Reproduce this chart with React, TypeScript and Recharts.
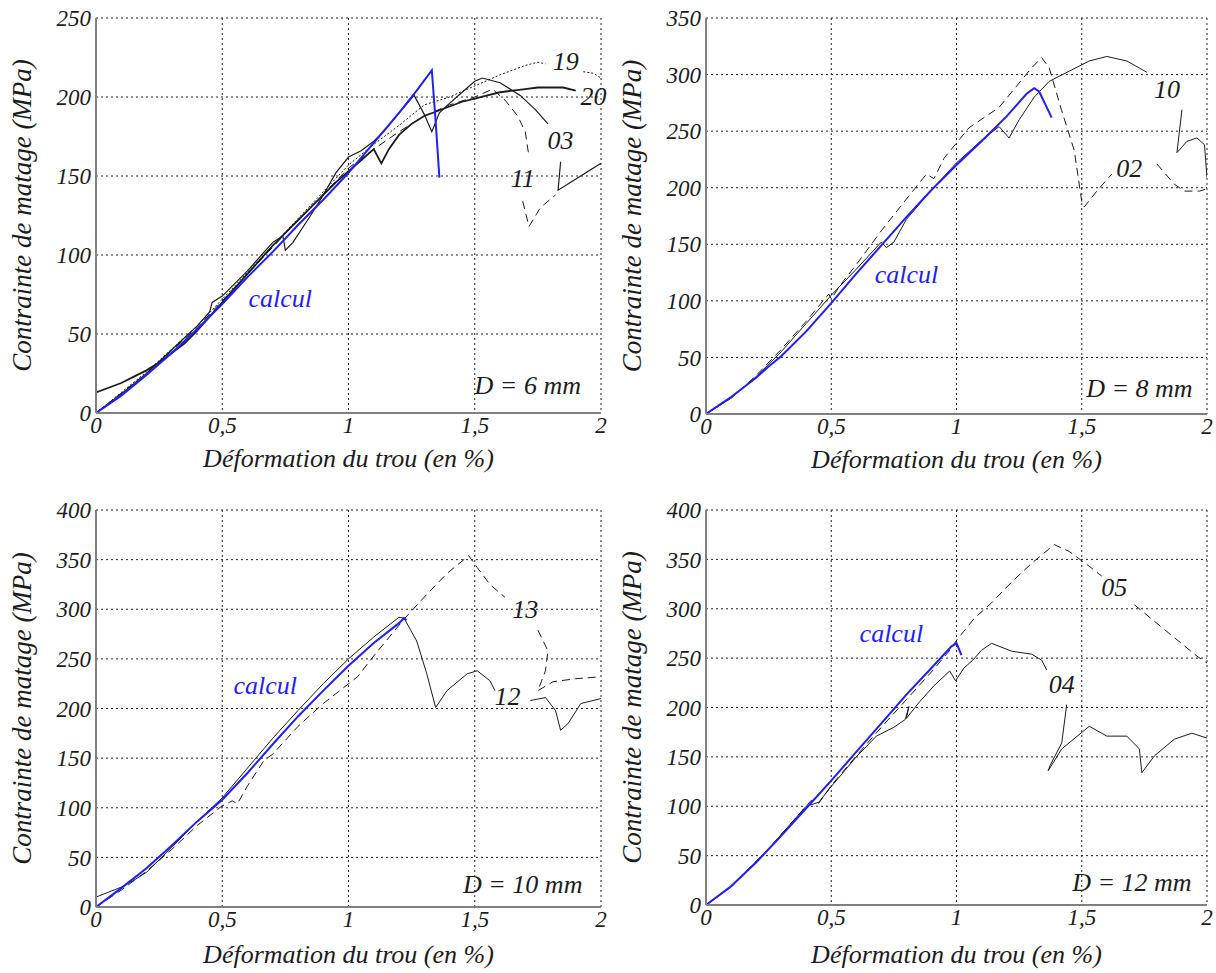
import { CartesianGrid, Line, LineChart, ReferenceDot, XAxis, YAxis } from "recharts";

const FONT = '"Liberation Serif", "Times New Roman", serif';
const BLUE = "#1f1fff";
const INK = "#1c1c1c";

type Raw = Array<[number, number | null]>;

// --- D = 6 mm ---
const calcul6: Raw = [[0, 0], [0.1, 11], [0.2, 24], [0.3, 38], [0.4, 53], [0.5, 69], [0.6, 86], [0.7, 102], [0.8, 119], [0.9, 135], [1.0, 152], [1.1, 171], [1.2, 190], [1.27, 204], [1.33, 217], [1.345, 185], [1.36, 149]];
const essai20: Raw = [[0, 13], [0.05, 16], [0.1, 19], [0.15, 23], [0.2, 27], [0.25, 32], [0.3, 38], [0.35, 44], [0.4, 52], [0.45, 61], [0.5, 70], [0.55, 79], [0.6, 88], [0.65, 97], [0.7, 106], [0.75, 114], [0.8, 122], [0.85, 130], [0.9, 138], [0.95, 146], [1.0, 153], [1.05, 160], [1.1, 167], [1.13, 158], [1.16, 167], [1.2, 176], [1.25, 183], [1.3, 188], [1.35, 191], [1.4, 194], [1.45, 197], [1.5, 199], [1.55, 201], [1.6, 203], [1.65, 204], [1.7, 205], [1.75, 206], [1.8, 206], [1.85, 206], [1.9, 204]];
const essai03: Raw = [[0, 0], [0.1, 12], [0.2, 25], [0.3, 40], [0.4, 55], [0.45, 64], [0.46, 70], [0.5, 74], [0.6, 90], [0.7, 108], [0.74, 112], [0.75, 103], [0.78, 108], [0.85, 125], [0.9, 138], [0.95, 152], [1.0, 162], [1.05, 166], [1.1, 172], [1.15, 180], [1.2, 190], [1.26, 201], [1.3, 189], [1.33, 178], [1.36, 190], [1.4, 196], [1.45, 203], [1.5, 210], [1.53, 212], [1.6, 209], [1.68, 201], [1.74, 192], [1.79, 183], [1.8, null], [1.84, 159], [1.83, 141], [1.88, 146], [1.94, 152], [2.0, 158]];
const essai11: Raw = [[0, 0], [0.2, 25], [0.4, 54], [0.6, 88], [0.8, 122], [1.0, 155], [1.1, 167], [1.2, 178], [1.3, 188], [1.4, 195], [1.5, 200], [1.57, 205], [1.62, 198], [1.67, 188], [1.7, 178], [1.715, 162], [1.7, null], [1.69, 134], [1.715, 118], [1.76, 130], [1.82, 138]];
const essai19: Raw = [[0, 0], [0.2, 26], [0.4, 55], [0.6, 89], [0.8, 123], [1.0, 157], [1.1, 170], [1.2, 182], [1.3, 195], [1.4, 200], [1.5, 207], [1.6, 214], [1.7, 220], [1.75, 222], [1.78, 221], [1.8, null], [1.93, 216], [1.97, 215], [2.0, 212]];

// --- D = 8 mm ---
const calcul8: Raw = [[0, 0], [0.1, 15], [0.2, 32], [0.25, 42], [0.3, 51], [0.4, 73], [0.5, 98], [0.6, 124], [0.7, 149], [0.8, 174], [0.9, 198], [1.0, 220], [1.1, 241], [1.2, 263], [1.28, 283], [1.31, 288], [1.33, 285], [1.38, 262]];
const essai10: Raw = [[0, 0], [0.1, 14], [0.2, 33], [0.3, 55], [0.4, 80], [0.5, 105], [0.6, 128], [0.7, 152], [0.72, 147], [0.75, 152], [0.8, 172], [0.9, 198], [1.0, 222], [1.1, 242], [1.17, 254], [1.21, 244], [1.25, 260], [1.31, 280], [1.37, 294], [1.45, 303], [1.53, 312], [1.6, 316], [1.68, 312], [1.76, 302], [1.8, null], [1.9, 269], [1.88, 231], [1.92, 241], [1.96, 244], [1.99, 238], [2.0, 209]];
const essai02: Raw = [[0, 0], [0.1, 14], [0.2, 34], [0.3, 57], [0.4, 82], [0.49, 106], [0.5, 102], [0.55, 118], [0.6, 132], [0.7, 162], [0.8, 190], [0.88, 212], [0.91, 208], [0.95, 226], [1.05, 253], [1.17, 271], [1.3, 306], [1.34, 315], [1.37, 306], [1.42, 268], [1.47, 233], [1.5, 188], [1.51, 183], [1.56, 197], [1.62, 212], [1.65, null], [1.8, 221], [1.87, 203], [1.91, 197], [1.97, 197], [2.0, 199]];

// --- D = 10 mm ---
const calcul10: Raw = [[0, 0], [0.1, 19], [0.2, 39], [0.3, 62], [0.4, 86], [0.5, 108], [0.6, 135], [0.7, 164], [0.8, 192], [0.9, 218], [1.0, 243], [1.1, 266], [1.2, 286], [1.22, 291], [1.23, 289]];
const essai12: Raw = [[0, 10], [0.05, 15], [0.1, 20], [0.15, 27], [0.2, 35], [0.3, 60], [0.4, 86], [0.5, 110], [0.6, 140], [0.7, 170], [0.8, 198], [0.9, 225], [1.0, 250], [1.1, 272], [1.2, 292], [1.22, 291], [1.27, 268], [1.31, 235], [1.345, 201], [1.39, 218], [1.47, 235], [1.51, 238], [1.56, 228], [1.58, 218], [1.6, null], [1.72, 208], [1.78, 211], [1.82, 198], [1.84, 178], [1.87, 185], [1.92, 205], [2.0, 210]];
const essai13: Raw = [[0, 0], [0.1, 17], [0.2, 36], [0.3, 58], [0.4, 82], [0.5, 102], [0.54, 107], [0.56, 104], [0.6, 122], [0.666, 148], [0.7, 154], [0.8, 182], [0.9, 205], [1.036, 232], [1.1, 253], [1.22, 290], [1.31, 315], [1.39, 336], [1.476, 354], [1.51, 342], [1.56, 325], [1.62, 312], [1.65, null], [1.75, 279], [1.79, 258], [1.78, 238], [1.75, 218], [1.81, 227], [1.9, 230], [2.0, 232]];

// --- D = 12 mm ---
const calcul12: Raw = [[0, 0], [0.1, 19], [0.2, 43], [0.3, 70], [0.4, 98], [0.5, 126], [0.6, 155], [0.7, 184], [0.8, 213], [0.9, 240], [0.98, 262], [1.0, 265], [1.02, 253]];
const essai04: Raw = [[0, 0], [0.1, 18], [0.25, 57], [0.4, 100], [0.45, 104], [0.5, 120], [0.6, 150], [0.68, 171], [0.75, 180], [0.796, 188], [0.81, 201], [0.8, 189], [0.85, 205], [0.91, 222], [0.973, 237], [0.996, 227], [1.03, 240], [1.065, 248], [1.1, 258], [1.14, 265], [1.22, 257], [1.3, 254], [1.34, 248], [1.36, 238], [1.38, null], [1.44, 203], [1.42, 164], [1.373, 141], [1.366, 136], [1.42, 158], [1.53, 181], [1.6, 171], [1.68, 171], [1.73, 158], [1.74, 134], [1.79, 151], [1.87, 168], [1.94, 174], [2.0, 169]];
const essai05: Raw = [[0, 0], [0.1, 19], [0.25, 57], [0.42, 106], [0.45, 103], [0.5, 121], [0.6, 151], [0.7, 180], [0.8, 208], [0.9, 236], [0.98, 260], [1.0, 268], [1.07, 290], [1.14, 306], [1.22, 327], [1.3, 346], [1.39, 365], [1.45, 358], [1.53, 343], [1.58, 333], [1.6, null], [1.71, 304], [1.83, 279], [1.96, 252], [2.0, 245]];

const xTicks = [0, 0.5, 1, 1.5, 2];
const yTicks250 = [0, 50, 100, 150, 200, 250];
const yTicks350 = [0, 50, 100, 150, 200, 250, 300, 350];
const yTicks400 = [0, 50, 100, 150, 200, 250, 300, 350, 400];

type Series = { data: Raw; dash?: string; width?: number; color?: string };
type Note = { x: number; y: number; text: string; color?: string };

type PanelProps = {
  left: number;
  top: number;
  width: number;
  height: number;
  marginTop: number;
  marginRight: number;
  yMax: number;
  yTicks: number[];
  series: Series[];
  notes: Note[];
  titleGap: number;
};

const toPts = (a: Raw) => a.map(([x, y]) => ({ x, y }));
const comma = (v: number) => String(v).replace(".", ",");

const tickStyle = { fontSize: 23, fontStyle: "italic", fontFamily: FONT, fill: INK };
const PAD_BOTTOM = 10;

function Panel(p: PanelProps) {
  return (
    <div style={{ position: "absolute", left: p.left, top: p.top }}>
      <LineChart
        width={p.width}
        height={p.height + PAD_BOTTOM}
        margin={{ top: p.marginTop, right: p.marginRight, bottom: PAD_BOTTOM, left: 0 }}
      >
        <CartesianGrid stroke="#222" strokeDasharray="2 3" strokeWidth={1} />
        <XAxis
          dataKey="x"
          type="number"
          domain={[0, 2]}
          ticks={xTicks}
          interval={0}
          tickFormatter={comma}
          tick={tickStyle}
          tickLine={false}
          tickSize={0}
          tickMargin={4}
          height={60}
          stroke="#808080"
          strokeWidth={2}
          allowDataOverflow
          label={{
            content: (lp: any) => {
              const vb = lp.viewBox;
              return (
                <text
                  x={vb.x + vb.width / 2}
                  y={vb.y + p.titleGap}
                  textAnchor="middle"
                  dominantBaseline="middle"
                  fontSize={26}
                  fontStyle="italic"
                  fontFamily={FONT}
                  fill={INK}
                >
                  Déformation du trou (en %)
                </text>
              );
            },
          }}
        />
        <YAxis
          type="number"
          domain={[0, p.yMax]}
          ticks={p.yTicks}
          interval={0}
          tick={tickStyle}
          tickLine={false}
          tickSize={0}
          tickMargin={5}
          width={96}
          stroke="#808080"
          strokeWidth={2}
          allowDataOverflow
          label={{
            content: (lp: any) => {
              const vb = lp.viewBox;
              const cx = vb.x + 25;
              const cy = vb.y + vb.height / 2;
              return (
                <text
                  x={cx}
                  y={cy}
                  transform={`rotate(-90 ${cx} ${cy})`}
                  textAnchor="middle"
                  dominantBaseline="middle"
                  fontSize={27}
                  fontStyle="italic"
                  fontFamily={FONT}
                  fill={INK}
                >
                  Contrainte de matage (MPa)
                </text>
              );
            },
          }}
        />
        {p.series.map((s, i) => (
          <Line
            key={i}
            data={toPts(s.data)}
            dataKey="y"
            type="linear"
            dot={false}
            activeDot={false}
            stroke={s.color ?? INK}
            strokeWidth={s.width ?? 1}
            strokeDasharray={s.dash}
            connectNulls={false}
            isAnimationActive={false}
          />
        ))}
        {p.notes.map((n, i) => (
          <ReferenceDot
            key={"n" + i}
            x={n.x}
            y={n.y}
            r={0}
            shape={(sp: any) => (
              <text
                x={sp.cx}
                y={sp.cy}
                textAnchor="middle"
                dominantBaseline="middle"
                fontSize={26}
                fontStyle="italic"
                fontFamily={FONT}
                fill={n.color ?? INK}
              >
                {n.text}
              </text>
            )}
          />
        ))}
      </LineChart>
    </div>
  );
}

const DASH = "8 5";
const DOT = "2 2";

export default function App() {
  return (
    <div
      style={{
        position: "absolute",
        left: 0,
        top: 0,
        width: 1216,
        height: 973,
        background: "#fff",
        overflow: "hidden",
        fontFamily: FONT,
      }}
    >
      <Panel
        left={0}
        top={0}
        width={612}
        height={473}
        marginTop={18}
        marginRight={11}
        yMax={250}
        yTicks={yTicks250}
        titleGap={48}
        series={[
          { data: essai19, dash: DOT },
          { data: essai11, dash: DASH },
          { data: essai03, width: 1.2 },
          { data: essai20, width: 1.8 },
          { data: calcul6, color: BLUE, width: 2 },
        ]}
        notes={[
          { x: 0.73, y: 71, text: "calcul", color: BLUE },
          { x: 1.71, y: 16, text: "D = 6 mm" },
          { x: 1.86, y: 221, text: "19" },
          { x: 1.97, y: 199, text: "20" },
          { x: 1.84, y: 171, text: "03" },
          { x: 1.69, y: 147, text: "11" },
        ]}
      />
      <Panel
        left={610}
        top={0}
        width={606}
        height={474}
        marginTop={18}
        marginRight={9}
        yMax={350}
        yTicks={yTicks350}
        titleGap={48}
        series={[
          { data: essai02, dash: DASH },
          { data: essai10 },
          { data: calcul8, color: BLUE, width: 2 },
        ]}
        notes={[
          { x: 0.8, y: 121, text: "calcul", color: BLUE },
          { x: 1.73, y: 20, text: "D = 8 mm" },
          { x: 1.84, y: 285, text: "10" },
          { x: 1.69, y: 215, text: "02" },
        ]}
      />
      <Panel
        left={0}
        top={490}
        width={612}
        height={477}
        marginTop={20}
        marginRight={11}
        yMax={400}
        yTicks={yTicks400}
        titleGap={50}
        series={[
          { data: essai13, dash: DASH },
          { data: essai12 },
          { data: calcul10, color: BLUE, width: 2 },
        ]}
        notes={[
          { x: 0.67, y: 221, text: "calcul", color: BLUE },
          { x: 1.69, y: 20, text: "D = 10 mm" },
          { x: 1.7, y: 297, text: "13" },
          { x: 1.63, y: 210, text: "12" },
        ]}
      />
      <Panel
        left={610}
        top={490}
        width={606}
        height={475}
        marginTop={20}
        marginRight={9}
        yMax={400}
        yTicks={yTicks400}
        titleGap={52}
        series={[
          { data: essai05, dash: DASH },
          { data: essai04 },
          { data: calcul12, color: BLUE, width: 2 },
        ]}
        notes={[
          { x: 0.74, y: 272, text: "calcul", color: BLUE },
          { x: 1.7, y: 20, text: "D = 12 mm" },
          { x: 1.63, y: 319, text: "05" },
          { x: 1.42, y: 221, text: "04" },
        ]}
      />
    </div>
  );
}
